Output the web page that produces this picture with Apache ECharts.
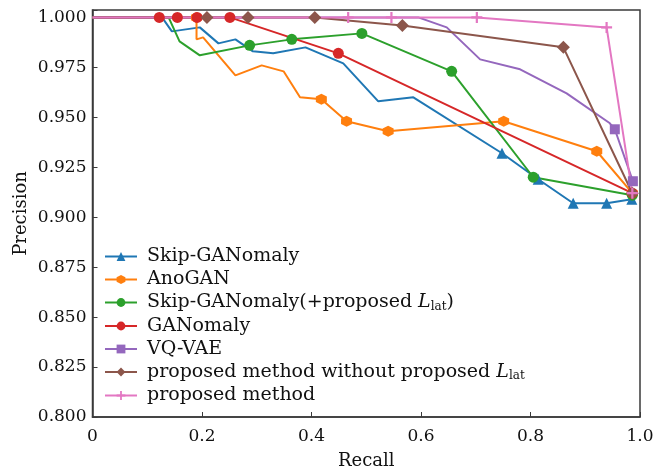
<!DOCTYPE html>
<html>
<head>
<meta charset="utf-8">
<script src="https://cdn.jsdelivr.net/npm/echarts@6/dist/echarts.min.js"></script>
<style>
  html, body { margin: 0; padding: 0; background: #fff; }
  #chart { width: 668px; height: 472px; }
</style>
</head>
<body>
<div id="chart"></div>
<script>
// recall/precision pairs
const skipGan = [[0, 1.0], [0.127, 1.0], [0.145, 0.993], [0.196, 0.995], [0.23, 0.987], [0.261, 0.989], [0.293, 0.983], [0.33, 0.982], [0.389, 0.985], [0.458, 0.977], [0.522, 0.958], [0.586, 0.960], [0.748, 0.932], [0.814, 0.919], [0.878, 0.907], [0.939, 0.907], [0.985, 0.909]];
const anoGan = [[0, 1.0], [0.19, 1.0], [0.19, 0.989], [0.202, 0.990], [0.261, 0.971], [0.309, 0.976], [0.349, 0.973], [0.379, 0.960], [0.418, 0.959], [0.464, 0.948], [0.54, 0.943], [0.751, 0.948], [0.921, 0.933], [0.986, 0.912]];
const skipGanLat = [[0, 1.0], [0.139, 1.0], [0.159, 0.988], [0.196, 0.981], [0.287, 0.986], [0.364, 0.989], [0.492, 0.992], [0.656, 0.973], [0.805, 0.920], [0.986, 0.911]];
const ganomaly = [[0, 1.0], [0.122, 1.0], [0.155, 1.0], [0.191, 1.0], [0.251, 1.0], [0.449, 0.982], [0.986, 0.912]];
const vqVae = [[0, 1.0], [0.595, 1.0], [0.647, 0.995], [0.708, 0.979], [0.781, 0.974], [0.866, 0.962], [0.945, 0.947], [0.954, 0.944], [0.987, 0.918]];
const noLat = [[0, 1.0], [0.209, 1.0], [0.284, 1.0], [0.406, 1.0], [0.566, 0.996], [0.86, 0.985], [0.986, 0.912]];
const proposed = [[0, 1.0], [0.467, 1.0], [0.546, 1.0], [0.702, 1.0], [0.939, 0.995], [0.986, 0.912]];

// which points carry a marker
const skipGanMarks = [12, 13, 14, 15, 16];
const anoGanMarks = [1, 8, 9, 10, 11, 12, 13];
const skipGanLatMarks = [4, 5, 6, 7, 8, 9];
const ganomalyMarks = [1, 2, 3, 4, 5, 6];
const vqVaeMarks = [7, 8];
const noLatMarks = [1, 2, 3, 4, 5, 6];
const proposedMarks = [1, 2, 3, 4, 5];

const names = [
  'Skip-GANomaly',
  'AnoGAN',
  'Skip-GANomaly(+proposed L_lat)',
  'GANomaly',
  'VQ-VAE',
  'proposed method without proposed L_lat',
  'proposed method'
];

const font = 'DejaVu Serif';
const plusPath = 'path://M4,0h2v4h4v2h-4v4h-2v-4h-4v-2h4z';
const hexPath = 'path://M5,0L9.33,2.5L9.33,7.5L5,10L0.67,7.5L0.67,2.5Z';

function makeSeries(name, pts, marks, color, symbol, size) {
  return {
    name: name,
    type: 'line',
    data: pts.map(function (p, i) {
      return marks.indexOf(i) >= 0 ? { value: p } : { value: p, symbol: 'none' };
    }),
    symbol: symbol,
    symbolSize: size,
    showAllSymbol: true,
    color: color,
    lineStyle: { width: 2, color: color },
    itemStyle: { color: color },
    emphasis: { disabled: true },
    animation: false
  };
}

const chart = echarts.init(document.getElementById('chart'), null, { renderer: 'canvas' });

const option = {
  backgroundColor: '#fff',
  grid: {
    left: 92.5, right: 28, top: 10, bottom: 55,
    containLabel: false,
    outerBoundsMode: 'none',
    show: true, borderColor: '#3a3a3a', borderWidth: 1.5, backgroundColor: 'transparent'
  },
  legend: {
    orient: 'vertical',
    left: 99,
    top: 242,
    itemWidth: 32,
    itemHeight: 11,
    itemGap: 4,
    data: names,
    formatter: function (n) {
      if (n.indexOf('L_lat') >= 0) {
        return '{n|' + n.replace(' L_lat', ' ').replace(')', '') + '}{i|L}{s|lat}' + (n.indexOf(')') >= 0 ? '{n|)}' : '');
      }
      return '{n|' + n + '}';
    },
    textStyle: {
      fontFamily: font,
      fontSize: 19,
      color: '#111',
      padding: [0, 0, 0, 5],
      rich: {
        n: { fontFamily: font, fontSize: 19, color: '#111' },
        i: { fontFamily: font, fontSize: 19, fontStyle: 'italic', color: '#111' },
        s: { fontFamily: font, fontSize: 12, color: '#111', padding: [8, 0, 0, 0] }
      }
    }
  },
  xAxis: {
    type: 'value',
    min: 0, max: 1, interval: 0.2,
    name: 'Recall',
    nameLocation: 'middle',
    nameGap: 35,
    nameMoveOverlap: false,
    nameTextStyle: { fontFamily: font, fontSize: 18, color: '#111' },
    axisLine: { lineStyle: { color: '#3a3a3a', width: 1.5 } },
    axisTick: { inside: true, length: 5, lineStyle: { color: '#3a3a3a' } },
    axisLabel: {
      fontFamily: font, fontSize: 17, color: '#111', margin: 11,
      formatter: function (v) { return v === 0 ? '0' : v.toFixed(1); }
    },
    splitLine: { show: false }
  },
  yAxis: {
    type: 'value',
    min: 0.8, max: 1.0037, interval: 0.025,
    name: 'Precision',
    nameLocation: 'middle',
    nameGap: 62,
    nameMoveOverlap: false,
    nameTextStyle: { fontFamily: font, fontSize: 18, color: '#111' },
    axisLine: { show: true, lineStyle: { color: '#3a3a3a', width: 1.5 } },
    axisTick: { show: true, inside: true, length: 5, lineStyle: { color: '#3a3a3a' } },
    axisLabel: {
      fontFamily: font, fontSize: 17, color: '#111', margin: 6,
      formatter: function (v) {
        const k = v / 0.025;
        return Math.abs(k - Math.round(k)) > 1e-4 ? '' : v.toFixed(3);
      }
    },
    splitLine: { show: false }
  },
  series: [
    makeSeries(names[0], skipGan, skipGanMarks, '#1f77b4', 'triangle', 11),
    makeSeries(names[1], anoGan, anoGanMarks, '#ff7f0e', hexPath, 11),
    makeSeries(names[2], skipGanLat, skipGanLatMarks, '#2ca02c', 'circle', 11),
    makeSeries(names[3], ganomaly, ganomalyMarks, '#d62728', 'circle', 11),
    makeSeries(names[4], vqVae, vqVaeMarks, '#9467bd', 'rect', 10),
    makeSeries(names[5], noLat, noLatMarks, '#8c564b', 'diamond', 13),
    makeSeries(names[6], proposed, proposedMarks, '#e377c2', plusPath, 11)
  ]
};

chart.setOption(option);
</script>
</body>
</html>
